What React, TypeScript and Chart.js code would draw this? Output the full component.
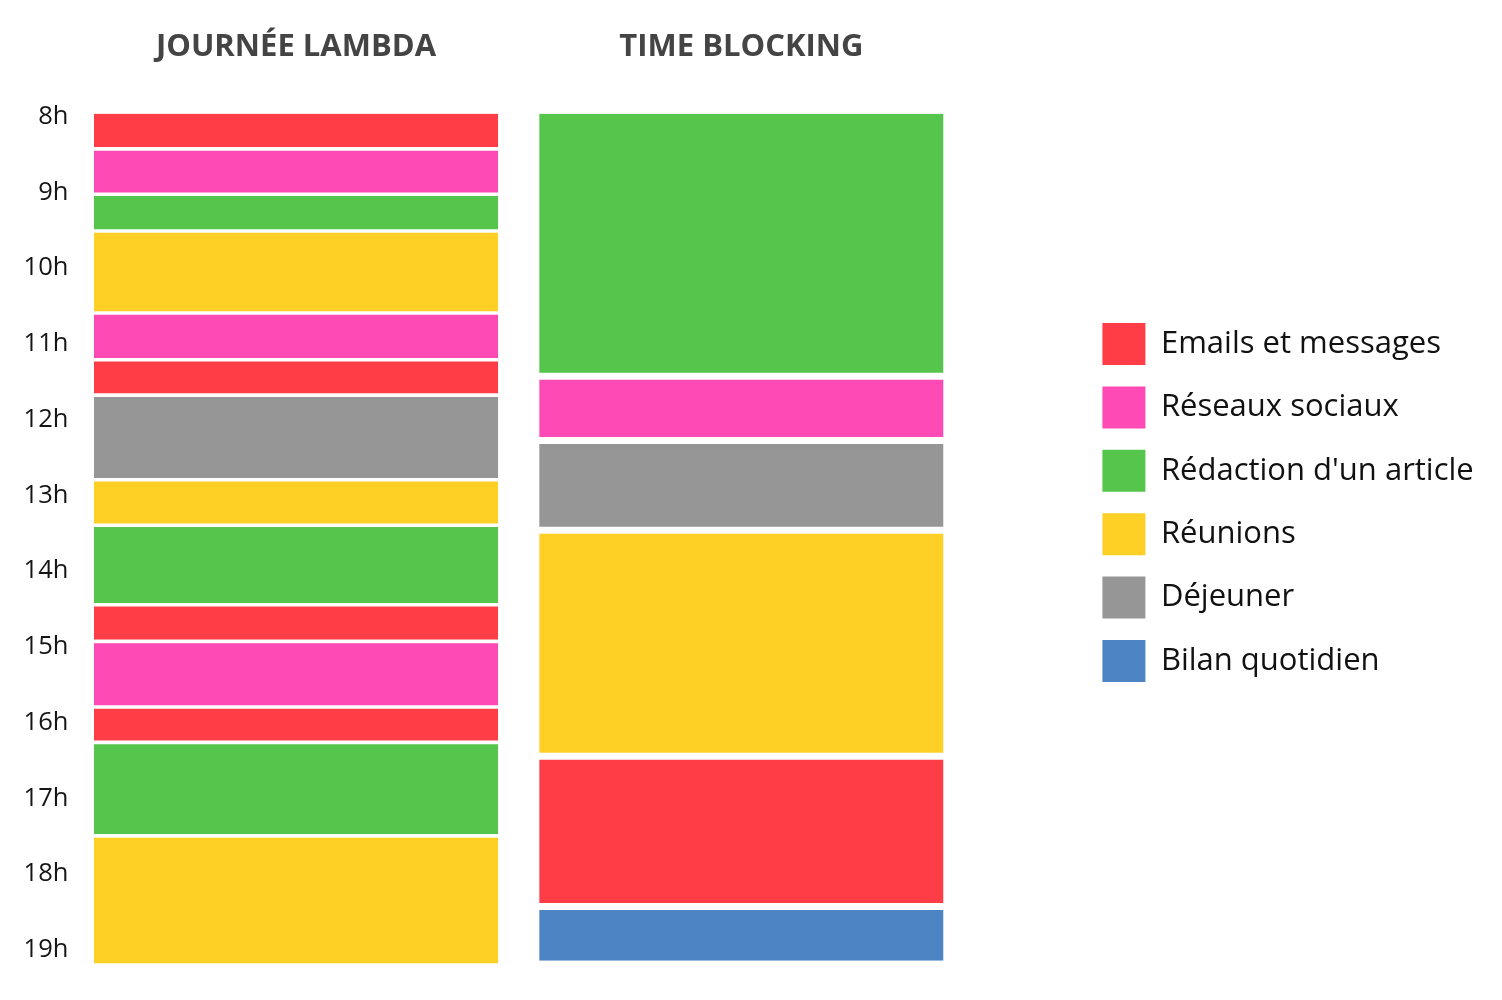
import React, { useEffect, useRef } from 'react';
import { Chart, registerables } from 'chart.js';

Chart.register(...registerables);

// ---- Data ----
const columns = ['JOURNÉE LAMBDA', 'TIME BLOCKING'];
const categories = [
  'Emails et messages',
  'Réseaux sociaux',
  "Rédaction d'un article",
  'Réunions',
  'Déjeuner',
  'Bilan quotidien',
];
const categoryColors = ['#fe3d46', '#fe4ab5', '#55c64b', '#fecf24', '#969696', '#4c84c4'];

// Segments in order from 8h: activity (index in categories) and duration in minutes
const lambdaActivities = [0, 1, 2, 3, 1, 0, 4, 3, 2, 0, 1, 0, 2, 3];
const lambdaMinutes = [28, 36, 29, 65, 37, 28, 67, 36, 63, 29, 52, 28, 74, 101];
const blockingActivities = [2, 1, 4, 3, 0, 5];
const blockingMinutes = [208, 51, 71, 179, 119, 43];

const hourLabels = ['8h', '9h', '10h', '11h', '12h', '13h', '14h', '15h', '16h', '17h', '18h', '19h'];

const FONT = "'Open Sans', 'Noto Sans', sans-serif";

export default function App() {
  const ref = useRef<HTMLCanvasElement>(null);

  useEffect(() => {
    const cols = [
      { acts: lambdaActivities, mins: lambdaMinutes, gap: 1.8 },
      { acts: blockingActivities, mins: blockingMinutes, gap: 3.5 },
    ];
    const segCount = Math.max(lambdaMinutes.length, blockingMinutes.length);
    const datasets = Array.from({ length: segCount }, (_, i) => ({
      label: 'segment ' + (i + 1),
      data: cols.map((c) => (i < c.mins.length ? c.mins[i] : null)),
      backgroundColor: cols.map((c) => (i < c.acts.length ? categoryColors[c.acts[i]] : 'rgba(0,0,0,0)')),
      borderColor: '#ffffff',
      borderWidth: (ctx: any) => {
        const c = cols[ctx.dataIndex];
        if (!c) return 0;
        return {
          top: i === 0 ? 0 : c.gap,
          bottom: i === c.mins.length - 1 ? 0 : c.gap,
          left: 0,
          right: 0,
        };
      },
      borderSkipped: false,
      inflateAmount: 0,
      xAxisID: 'x',
      yAxisID: 'y',
      barPercentage: 0.908,
      categoryPercentage: 1,
    }));

    const chart = new Chart(ref.current as HTMLCanvasElement, {
      type: 'bar',
      data: { labels: columns, datasets: datasets as any },
      options: {
        responsive: false,
        animation: false,
        layout: { padding: { top: 5, bottom: 0, left: 0, right: 24 } },
        font: { family: FONT },
        scales: {
          x: {
            type: 'category',
            position: 'top',
            stacked: true,
            offset: true,
            grid: { display: false, drawTicks: false },
            border: { display: false },
            ticks: {
              color: '#444444',
              font: { family: FONT, size: 31, weight: 'bold' },
              padding: 47.5,
              maxRotation: 0,
              autoSkip: false,
            },
            afterFit: (s: any) => {
              s.height = 108.5;
              s.paddingLeft = 0;
              s.paddingRight = 0;
            },
          },
          y: {
            type: 'linear',
            position: 'left',
            stacked: true,
            reverse: true,
            min: 0,
            max: 702,
            grid: { display: false, drawTicks: false },
            border: { display: false },
            ticks: {
              stepSize: 60,
              includeBounds: false,
              autoSkip: false,
              color: '#151515',
              padding: 5,
              labelOffset: 3,
              font: { family: FONT, size: 25.5 },
              callback: (v: any) => {
                const idx = Number(v) / 60;
                return Number.isInteger(idx) && hourLabels[idx] ? hourLabels[idx] : '';
              },
            },
            afterFit: (s: any) => {
              s.width = 73.4;
              s.paddingTop = 0;
              s.paddingBottom = 0;
            },
          },
          yPad: {
            type: 'linear',
            position: 'right',
            display: true,
            grid: { display: false, drawTicks: false },
            border: { display: false },
            ticks: { display: false },
            afterFit: (s: any) => {
              s.width = 117;
              s.paddingTop = 0;
              s.paddingBottom = 0;
            },
          },
        } as any,
        plugins: {
          tooltip: { enabled: false },
          title: { display: false },
          legend: {
            display: true,
            position: 'right',
            align: 'center',
            maxWidth: 397,
            onClick: () => {},
            labels: {
              boxWidth: 43,
              boxHeight: 42,
              padding: 21.4,
              color: '#111111',
              font: { family: FONT, size: 31 },
              generateLabels: () =>
                categories.map((t, i) => ({
                  text: t,
                  fillStyle: categoryColors[i],
                  strokeStyle: categoryColors[i],
                  lineWidth: 0,
                  hidden: false,
                  fontColor: '#111111',
                  datasetIndex: i,
                })) as any,
            },
          },
        },
      } as any,
    });
    return () => chart.destroy();
  }, []);

  return (
    <div style={{ position: 'fixed', left: 0, top: 0, width: 1502, height: 1000, background: '#ffffff' }}>
      <canvas ref={ref} width={1502} height={1000} style={{ display: 'block', width: 1502, height: 1000 }} />
    </div>
  );
}
